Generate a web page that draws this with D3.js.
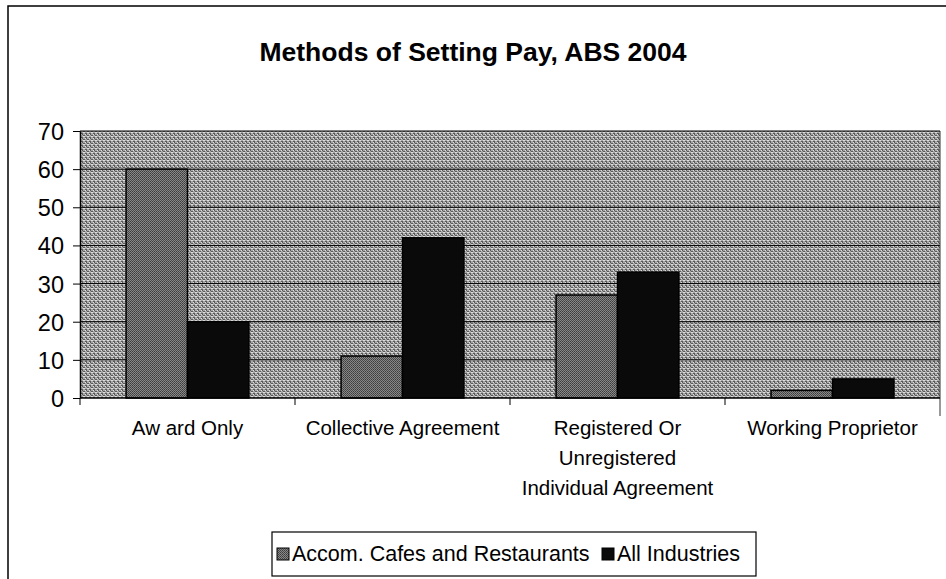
<!DOCTYPE html>
<html>
<head>
<meta charset="utf-8">
<script src="https://cdn.jsdelivr.net/npm/d3@7"></script>
<style>
  body { margin: 0; background: #fff; }
  svg { display: block; }
  text { font-family: "Liberation Sans", Arial, sans-serif; fill: #000; }
</style>
</head>
<body>
<div id="chart"></div>
<script>
const categories = ["Award Only", "Collective Agreement", "Registered Or Unregistered Individual Agreement", "Working Proprietor"];
const categoryLines = [["Aw ard Only"], ["Collective Agreement"], ["Registered Or", "Unregistered", "Individual Agreement"], ["Working Proprietor"]];
const seriesNames = ["Accom. Cafes and Restaurants", "All Industries"];
const accomValues = [60, 11, 27, 2];
const allValues = [20, 42, 33, 5];
const yTicks = [0, 10, 20, 30, 40, 50, 60, 70];

const width = 946, height = 579;
const margin = { top: 131, right: 6, bottom: 181, left: 80 };
const innerWidth = width - margin.left - margin.right;
const innerHeight = height - margin.top - margin.bottom;

const svg = d3.select("#chart").append("svg")
  .attr("width", width)
  .attr("height", height);

// dithered fills, like the scanned grey of the original
const defs = svg.append("defs");
const pat = defs.append("pattern")
  .attr("id", "dither")
  .attr("width", 4).attr("height", 4)
  .attr("patternUnits", "userSpaceOnUse");
pat.append("rect").attr("width", 4).attr("height", 4).attr("fill", "#a8a8a8");
[[0, 0], [2, 2], [3, 0], [1, 2], [2, 3]].forEach(([px, py]) =>
  pat.append("rect").attr("x", px).attr("y", py).attr("width", 1).attr("height", 1).attr("fill", "#5a5a5a"));
[[1, 3], [3, 1], [0, 1]].forEach(([px, py]) =>
  pat.append("rect").attr("x", px).attr("y", py).attr("width", 1).attr("height", 1).attr("fill", "#dedede"));

const pat2 = defs.append("pattern")
  .attr("id", "ditherBar")
  .attr("width", 2).attr("height", 2)
  .attr("patternUnits", "userSpaceOnUse");
pat2.append("rect").attr("width", 2).attr("height", 2).attr("fill", "#888");
pat2.append("rect").attr("width", 1).attr("height", 1).attr("fill", "#3c3c3c");
pat2.append("rect").attr("x", 1).attr("y", 1).attr("width", 1).attr("height", 1).attr("fill", "#4c4c4c");

const fills = ["url(#ditherBar)", "#0a0a0a"];

// outer frame (left and top edges only are visible)
svg.append("path")
  .attr("d", `M8,${height} V6 H${width}`)
  .attr("fill", "none")
  .attr("stroke", "#000")
  .attr("stroke-width", 1.5);

svg.append("text")
  .attr("x", 473)
  .attr("y", 61)
  .attr("text-anchor", "middle")
  .attr("font-size", 26.5)
  .attr("font-weight", "bold")
  .text("Methods of Setting Pay, ABS 2004");

const g = svg.append("g")
  .attr("transform", `translate(${margin.left},${margin.top})`);

const x0 = d3.scaleBand()
  .domain(categories)
  .range([0, innerWidth]);

const x1 = d3.scaleBand()
  .domain(seriesNames)
  .range([0, x0.bandwidth()])
  .paddingOuter(0.75);

const y = d3.scaleLinear()
  .domain([0, 70])
  .range([innerHeight, 0]);

g.append("rect")
  .attr("width", innerWidth)
  .attr("height", innerHeight)
  .attr("fill", "url(#dither)");

// gridlines
g.selectAll(".grid")
  .data(yTicks.slice(1))
  .join("line")
  .attr("x1", 0)
  .attr("x2", innerWidth)
  .attr("y1", d => y(d))
  .attr("y2", d => y(d))
  .attr("stroke", "#000")
  .attr("stroke-width", 1);

g.append("line")
  .attr("x1", innerWidth).attr("x2", innerWidth)
  .attr("y1", 0).attr("y2", innerHeight + 18)
  .attr("stroke", "#333");

const table = categories.map((c, i) => ({ cat: c, values: [accomValues[i], allValues[i]] }));

const groups = g.selectAll(".grp")
  .data(table)
  .join("g")
  .attr("transform", d => `translate(${x0(d.cat)},0)`);

groups.selectAll("rect")
  .data(d => d.values.map((v, i) => ({ key: seriesNames[i], value: v, i })))
  .join("rect")
  .attr("x", d => x1(d.key))
  .attr("y", d => y(d.value))
  .attr("width", x1.bandwidth())
  .attr("height", d => y(0) - y(d.value))
  .attr("fill", d => fills[d.i])
  .attr("stroke", "#000")
  .attr("stroke-width", 1.5);

// y axis
const yAxis = g.append("g")
  .call(d3.axisLeft(y).tickValues(yTicks).tickSize(7).tickSizeOuter(0));
yAxis.select(".domain").attr("stroke", "#000").attr("stroke-width", 1.5);
yAxis.selectAll("text")
  .attr("font-size", 23.5)
  .attr("font-family", "Liberation Sans, Arial, sans-serif")
  .attr("x", -16)
  .attr("dy", "0.36em");

// x axis
const xAxisG = g.append("g").attr("transform", `translate(0,${innerHeight})`);
xAxisG.append("line")
  .attr("x1", 0).attr("x2", innerWidth)
  .attr("stroke", "#000").attr("stroke-width", 1.5);
xAxisG.selectAll(".tick")
  .data(categories.map(c => x0(c)))
  .join("line")
  .attr("x1", d => d).attr("x2", d => d)
  .attr("y1", 0).attr("y2", 7)
  .attr("stroke", "#000");

xAxisG.selectAll(".lbl")
  .data(categories)
  .join("text")
  .attr("text-anchor", "middle")
  .attr("font-size", 20.5)
  .attr("transform", d => `translate(${x0(d) + x0.bandwidth() / 2},37)`)
  .each(function (d, i) {
    d3.select(this).selectAll("tspan")
      .data(categoryLines[i])
      .join("tspan")
      .attr("x", 0)
      .attr("y", (t, j) => j * 30)
      .text(t => t);
  });

// legend
const legend = svg.append("g");
legend.append("rect")
  .attr("x", 272).attr("y", 532)
  .attr("width", 484).attr("height", 44)
  .attr("fill", "#fff")
  .attr("stroke", "#000")
  .attr("stroke-width", 1.2);

const legendX = [277, 602];
seriesNames.forEach((name, i) => {
  legend.append("rect")
    .attr("x", legendX[i]).attr("y", 548)
    .attr("width", 12).attr("height", 12)
    .attr("fill", fills[i])
    .attr("stroke", "#000");
  legend.append("text")
    .attr("x", legendX[i] + 15)
    .attr("y", 561)
    .attr("font-size", 21.5)
    .text(name);
});
</script>
</body>
</html>
